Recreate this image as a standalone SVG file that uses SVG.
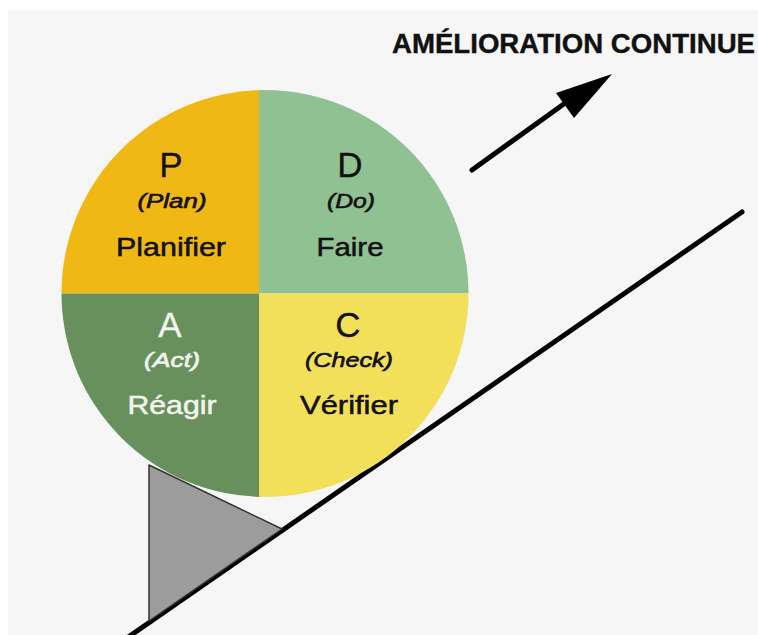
<svg xmlns="http://www.w3.org/2000/svg" width="758" height="635" viewBox="0 0 758 635">
  <defs>
    <clipPath id="circ">
      <circle cx="265" cy="293.5" r="203.5"/>
    </clipPath>
  </defs>
  <style>
    .t { font-family: "Liberation Sans", Arial, sans-serif; text-anchor: middle; }
    .big { font-size: 35px; }
    .sub { font-size: 20px; font-style: italic; stroke-width: 0.6px; }
    .lbl { font-size: 25px; stroke-width: 0.5px; }
    .dark { fill: #111111; stroke: #111111; }
    .light { fill: #f4f4ee; stroke: #f4f4ee; }
    .big.dark, .big.light { stroke-width: 0.3px; }
  </style>
  <rect x="0" y="0" width="758" height="635" fill="#ffffff"/>
  <rect x="8" y="10" width="750" height="625" fill="#f6f6f6"/>

  <g id="title">
    <text x="392" y="53" font-family="Liberation Sans, Arial, sans-serif" font-weight="bold" font-size="27" fill="#111111" stroke="#111111" stroke-width="0.4" textLength="363" lengthAdjust="spacingAndGlyphs">AMÉLIORATION CONTINUE</text>
  </g>

  <g id="connectors">
    <line x1="472" y1="170" x2="568" y2="101" stroke="#000" stroke-width="5" stroke-linecap="round"/>
    <polygon points="612,74 556,93 574,118" fill="#000"/>
    <line x1="124" y1="640" x2="742" y2="212" stroke="#000" stroke-width="5" stroke-linecap="round"/>
  </g>

  <g id="wedge">
    <polygon points="149,465 282,529 149,621" fill="#9c9c9c" stroke="#333" stroke-width="1.5" stroke-linejoin="round"/>
  </g>

  <g id="pdca" clip-path="url(#circ)">
    <rect id="q-plan" x="50" y="80" width="209" height="213.5" fill="#f0b814"/>
    <rect id="q-do" x="259" y="80" width="220" height="213.5" fill="#8fc193"/>
    <rect id="q-act" x="50" y="293.5" width="209" height="215" fill="#67905c"/>
    <rect id="q-check" x="259" y="293.5" width="220" height="215" fill="#f3e05a"/>
  </g>

  <g id="node-plan">
    <text class="t big dark" x="171" y="177">P</text>
    <text class="t sub dark" x="172" y="208" textLength="69" lengthAdjust="spacingAndGlyphs">(Plan)</text>
    <text class="t lbl dark" x="171" y="256" textLength="110" lengthAdjust="spacingAndGlyphs">Planifier</text>
  </g>
  <g id="node-do">
    <text class="t big dark" x="350" y="177">D</text>
    <text class="t sub dark" x="351" y="208" textLength="48" lengthAdjust="spacingAndGlyphs">(Do)</text>
    <text class="t lbl dark" x="350" y="256" textLength="67" lengthAdjust="spacingAndGlyphs">Faire</text>
  </g>
  <g id="node-act">
    <text class="t big light" x="170" y="337">A</text>
    <text class="t sub light" x="172" y="367" textLength="56" lengthAdjust="spacingAndGlyphs">(Act)</text>
    <text class="t lbl light" x="172" y="414" textLength="89" lengthAdjust="spacingAndGlyphs">Réagir</text>
  </g>
  <g id="node-check">
    <text class="t big dark" x="348" y="337">C</text>
    <text class="t sub dark" x="349" y="367" textLength="88" lengthAdjust="spacingAndGlyphs">(Check)</text>
    <text class="t lbl dark" x="349" y="414" textLength="98" lengthAdjust="spacingAndGlyphs">Vérifier</text>
  </g>
</svg>
